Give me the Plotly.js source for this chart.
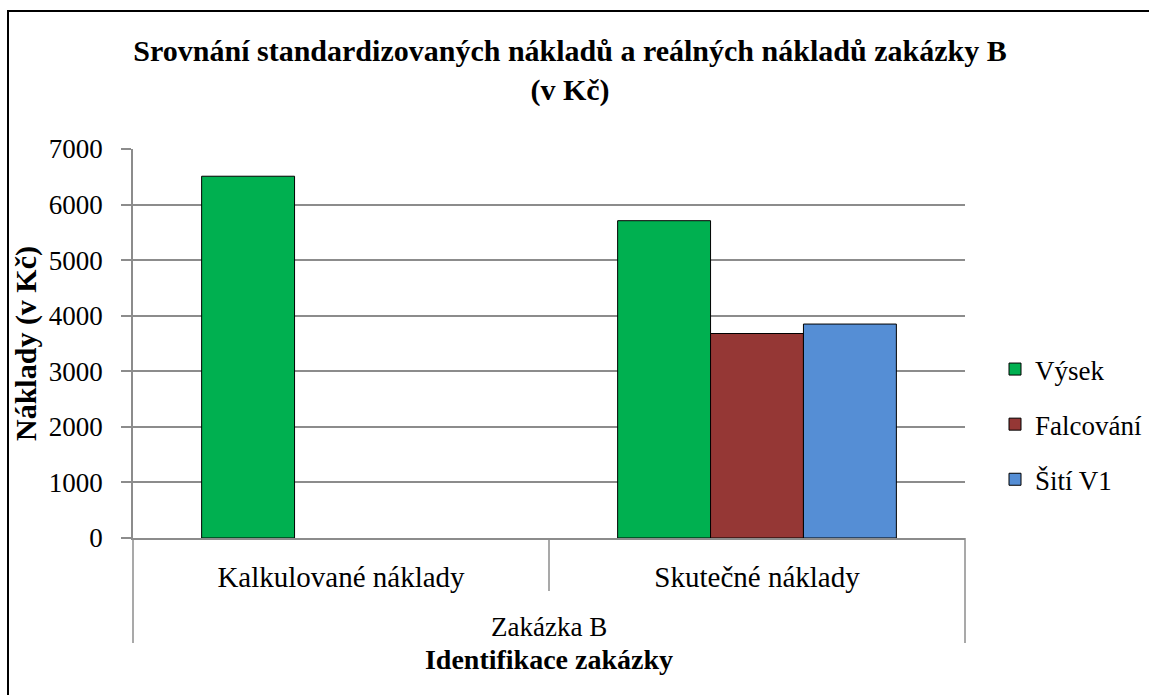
<!DOCTYPE html>
<html>
<head>
<meta charset="utf-8">
<script src="https://cdn.plot.ly/plotly-3.0.1.min.js"></script>
<style>html,body{margin:0;padding:0;background:#fff;}#chart{width:1149px;height:695px;}</style>
</head>
<body>
<div id="chart"></div>
<script>
const categories = ["Kalkulované náklady", "Skutečné náklady"];
const groupLabel = "Zakázka B";
const seriesNames = ["Výsek", "Falcování", "Šití V1"];
const vysek = [6510, 5710];
const falcovani = [null, 3680];
const sitiV1 = [null, 3850];
const yTicks = [0, 1000, 2000, 3000, 4000, 5000, 6000, 7000];
const colors = ["#00B050", "#953735", "#558ED5"];

const W = 1149, H = 695;
const M = {l: 133, r: 184, t: 149, b: 157, autoexpand: false};
const pw = W - M.l - M.r, ph = H - M.t - M.b;
const px2x = px => (px - M.l) / pw;
const px2y = py => (H - M.b - py) / ph;

const font = "Liberation Serif";
const values = [vysek, falcovani, sitiV1];
const traces = values.map((v, i) => ({
  type: "bar",
  name: seriesNames[i],
  x: categories,
  y: v,
  legendgroup: "g" + i,
  marker: {color: colors[i], line: {color: "#000", width: 1}},
  hoverinfo: "x+y+name"
}));

const grey = "#8c8c8c";
const layout = {
  width: W, height: H,
  margin: M,
  paper_bgcolor: "#fff", plot_bgcolor: "#fff",
  font: {family: font, color: "#000", size: 27},
  barmode: "group", bargap: 0.33, bargroupgap: 0,
  title: {
    text: "<b>Srovnání standardizovaných nákladů a reálných nákladů zakázky B<br>(v Kč)</b>",
    font: {family: font, size: 30, color: "#000"},
    x: px2x(570), xanchor: "center", xref: "paper",
    y: 1 - 61 / H, yanchor: "top", yref: "container"
  },
  xaxis: {
    type: "category",
    showline: true, linecolor: grey, linewidth: 1.5,
    ticks: "", showgrid: false,
    tickfont: {family: font, size: 29},
    ticklabelstandoff: 12,
    title: {text: "<b>Identifikace zakázky</b>", font: {family: font, size: 28}, standoff: 58}
  },
  yaxis: {
    range: [0, 7000], tickvals: yTicks, ticktext: yTicks.map(String),
    showline: true, linecolor: grey, linewidth: 1.5,
    ticks: "outside", ticklen: 10, tickcolor: grey, tickwidth: 1.5,
    showgrid: true, gridcolor: grey, gridwidth: 1.5,
    zeroline: false,
    tickfont: {family: font, size: 27},
    ticklabelstandoff: 13,
    title: {text: "<b>Náklady (v Kč)</b>", font: {family: font, size: 30}, standoff: 3}
  },
  legend: {
    x: px2x(995), xanchor: "left", y: px2y(345), yanchor: "top",
    font: {family: font, size: 27}, tracegroupgap: 17, itemwidth: 30,
    bgcolor: "rgba(0,0,0,0)"
  },
  annotations: [{
    text: groupLabel, xref: "paper", yref: "paper",
    x: 0.5, y: px2y(627), xanchor: "center", yanchor: "middle",
    showarrow: false, font: {family: font, size: 27}
  }],
  shapes: [
    {type: "line", xref: "paper", yref: "paper", x0: 0, x1: 0, y0: 0, y1: px2y(643), line: {color: grey, width: 1.5}},
    {type: "line", xref: "paper", yref: "paper", x0: 1, x1: 1, y0: 0, y1: px2y(643), line: {color: grey, width: 1.5}},
    {type: "line", xref: "paper", yref: "paper", x0: 0.5, x1: 0.5, y0: 0, y1: px2y(591), line: {color: grey, width: 1.5}},
    {type: "line", xref: "paper", yref: "paper", x0: px2x(8), x1: px2x(8), y0: px2y(11), y1: px2y(700), line: {color: "#000", width: 2}},
    {type: "line", xref: "paper", yref: "paper", x0: px2x(7), x1: px2x(1160), y0: px2y(11), y1: px2y(11), line: {color: "#000", width: 2}}
  ]
};

Plotly.newPlot("chart", traces, layout, {displayModeBar: false});
</script>
</body>
</html>
